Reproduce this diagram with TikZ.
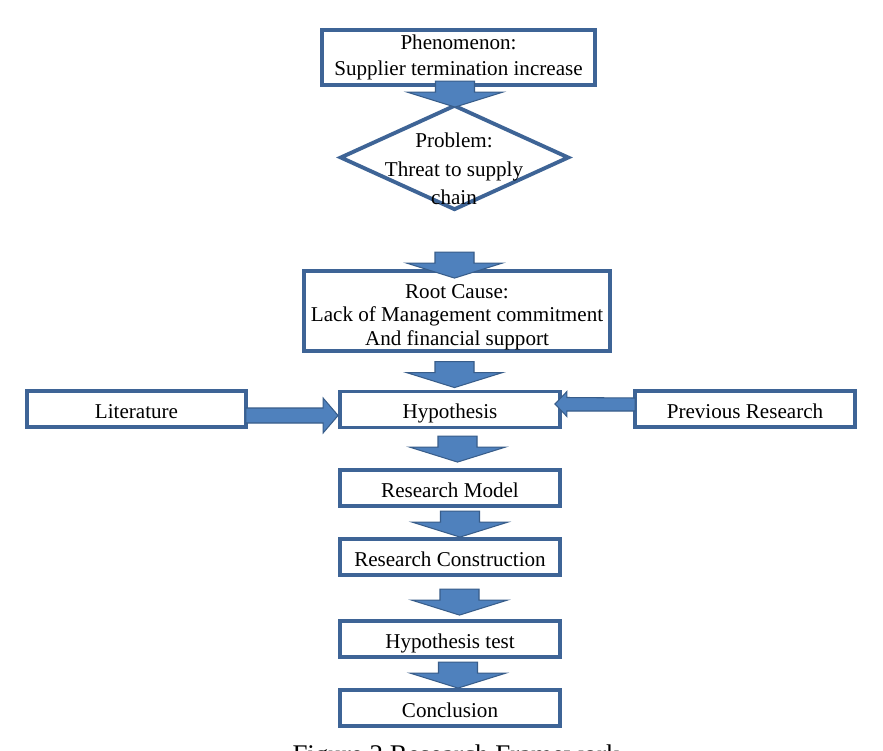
\documentclass[tikz,border=0pt]{standalone}
\usepackage{fontspec}
\setmainfont{Liberation Serif}
\usetikzlibrary{calc,shapes.geometric}
\definecolor{boxline}{HTML}{3E6496}
\definecolor{arrowfill}{HTML}{4F81BD}
\definecolor{arrowline}{HTML}{385D8A}

\begin{document}
\begin{tikzpicture}[x=0.03cm, y=-0.03cm,
  box/.style={draw=boxline, line width=3.3pt, fill=white, inner sep=2pt, font=\fontsize{18}{22}\selectfont, align=center},
  onebox/.style={box, minimum width=6.6cm, minimum height=1.08cm, text height=17pt, text depth=1pt},
  plain/.style={font=\fontsize{18}{24.3}\selectfont, align=center, inner sep=0pt},
  blockarrow/.style={draw=arrowline, fill=arrowfill, line width=0.9pt, line join=miter},
  caption/.style={font=\fontsize{23}{26}\selectfont, inner sep=0pt, anchor=base},
]
\useasboundingbox (0,0) rectangle (883,751);
\fill[white] (0,0) rectangle (883,751);

\node[box, minimum width=8.19cm, minimum height=1.65cm] (phen) at (458.5,57.5) {Phenomenon:\\Supplier termination increase};
\node[draw=boxline, line width=3.3pt, fill=white, diamond, minimum width=6.87cm, minimum height=3.15cm, inner sep=0pt] (prob) at (454.5,157.5) {};
\node[plain] (probtext) at (454,169) {Problem:\\Threat to supply\\chain};
\node[box, minimum width=9.18cm, minimum height=2.4cm] (root) at (457,311) {};
\node[plain, font=\fontsize{18}{20}\selectfont] (roottext) at (457,317) {Root Cause:\\Lack of Management commitment\\And financial support};

\node[onebox, minimum width=6.57cm] (lit) at (136.5,409) {Literature};
\node[onebox] (hyp) at (450,409.5) {Hypothesis};
\node[onebox] (prev) at (745,409) {Previous Research};
\node[onebox] (model) at (450,488) {Research Model};
\node[onebox] (constr) at (450,557) {Research Construction};
\node[onebox] (test) at (450,639) {Hypothesis test};
\node[onebox] (concl) at (450,708) {Conclusion};

% block arrows down the middle
\foreach \tgt/\dx/\dy in {prob/0.5/4, root/-2.5/9, hyp/4.5/-2, model/7.5/-6, constr/10/0, test/9.5/-4, concl/8/0}
  \draw[blockarrow] ($(\tgt.north)+(\dx,\dy)$) -- ++(-48,-15) -- ++(28.5,0) -- ++(0,-11) -- ++(39,0) -- ++(0,11) -- ++(28.5,0) -- cycle;

\draw[blockarrow] ($(hyp.west)+(0,6)$) coordinate (tipl) -- ++(-15,-17.5) -- ++(0,10) -- ($(lit.east)+(-2,-1)$) -- ++(0,15) -- ($(tipl)+(-15,7.5)$) -- ++(0,10) -- cycle;
\draw[blockarrow] ($(hyp.east)+(-7,-5.5)$) coordinate (tipr) -- ++(12,-12.5) -- ++(0,6) -- ($(prev.west)+(2,-11)$) -- ++(0,13) -- ($(tipr)+(12,7)$) -- ++(0,5.5) -- cycle;

\begin{scope}
  \clip (0,0) rectangle (883,751);
  \node[caption] (cap) at (456,763) {Figure 2 Research Framework};
\end{scope}
\end{tikzpicture}
\end{document}
